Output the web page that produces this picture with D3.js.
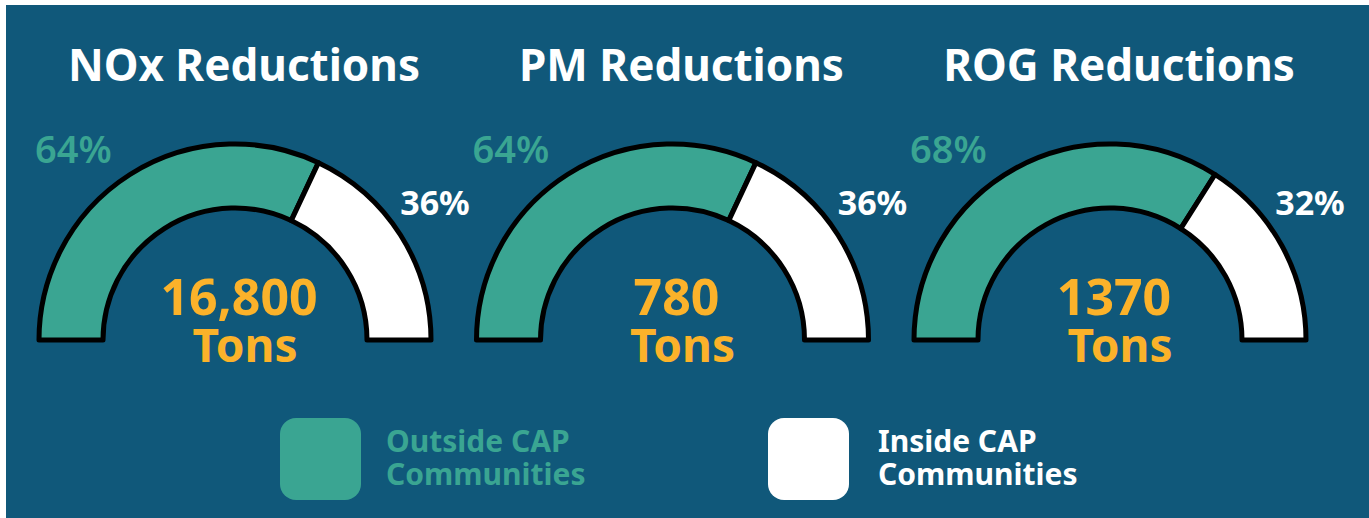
<!DOCTYPE html>
<html><head><meta charset="utf-8">
<script src="https://cdn.jsdelivr.net/npm/d3@7"></script>
<style>
html,body{margin:0;padding:0;background:#fff;}
svg{display:block;}
text{font-family:"Noto Sans","Open Sans",sans-serif;font-variant-ligatures:none;}
</style></head>
<body>
<svg id="chart" width="1369" height="518"></svg>
<script>
const pollutants = ["NOx", "PM", "ROG"];
const titles = ["NOx Reductions", "PM Reductions", "ROG Reductions"];
const outsidePct = [64, 64, 68];
const insidePct = [36, 36, 32];
const totals = ["16,800", "780", "1370"];
const unitLabel = "Tons";
const legendLabels = [["Outside CAP", "Communities"], ["Inside CAP", "Communities"]];

const W = 1369, H = 518;
const bg = "#10587a", green = "#3aa592", white = "#ffffff", orange = "#fbb22a";
const svg = d3.select("#chart");
svg.append("rect").attr("x", 6).attr("y", 5).attr("width", W - 6).attr("height", H - 5).attr("fill", bg);

const xCenter = d3.scalePoint().domain(pollutants).range([235, 1110]);
const cy = 340, rOuter = 196, rInner = 132;
const ang = d3.scaleLinear().domain([0, 100]).range([-Math.PI / 2, Math.PI / 2]);
const arc = d3.arc().innerRadius(rInner).outerRadius(rOuter);

pollutants.forEach((p, i) => {
  const g = svg.append("g").attr("transform", `translate(${xCenter(p)},${cy})`);
  const segs = [
    {start: 0, end: outsidePct[i], fill: green},
    {start: outsidePct[i], end: outsidePct[i] + insidePct[i], fill: white}
  ];
  g.selectAll("path").data(segs).join("path")
    .attr("d", d => arc({startAngle: ang(d.start), endAngle: ang(d.end)}))
    .attr("fill", d => d.fill)
    .attr("stroke", "#000").attr("stroke-width", 5).attr("stroke-linejoin", "round");

  svg.append("text").attr("x", xCenter(p) + 9).attr("y", 81)
    .attr("text-anchor", "middle").attr("fill", white)
    .attr("font-size", 44).attr("font-weight", 700).text(titles[i]);

  g.append("text").attr("x", -200).attr("y", -177).attr("fill", green)
    .attr("font-size", 38).attr("font-weight", 600).text(outsidePct[i] + "%");
  g.append("text").attr("x", 200).attr("y", -125).attr("text-anchor", "middle").attr("fill", white)
    .attr("font-size", 34).attr("font-weight", 700).text(insidePct[i] + "%");

  const t = g.append("text").attr("text-anchor", "middle").attr("fill", orange).attr("font-weight", 700);
  t.append("tspan").attr("x", 4).attr("y", -25).attr("font-size", 50).text(totals[i]);
  t.append("tspan").attr("x", 10).attr("y", 22).attr("font-size", 46).text(unitLabel);
});

const legendX = d3.scaleOrdinal().domain([0, 1]).range([280, 768]);
const legendFill = [green, white];
const legendTextX = [386, 878];
legendLabels.forEach((lines, i) => {
  const x = legendX(i);
  svg.append("rect").attr("x", x).attr("y", 418).attr("width", 81).attr("height", 82)
    .attr("rx", 16).attr("fill", legendFill[i]);
  const t = svg.append("text").attr("y", 452).attr("fill", legendFill[i])
    .attr("font-size", 30).attr("font-weight", 700);
  lines.forEach((l, j) => t.append("tspan").attr("x", legendTextX[i]).attr("dy", j === 0 ? 0 : 33).text(l));
});
</script>
</body></html>
